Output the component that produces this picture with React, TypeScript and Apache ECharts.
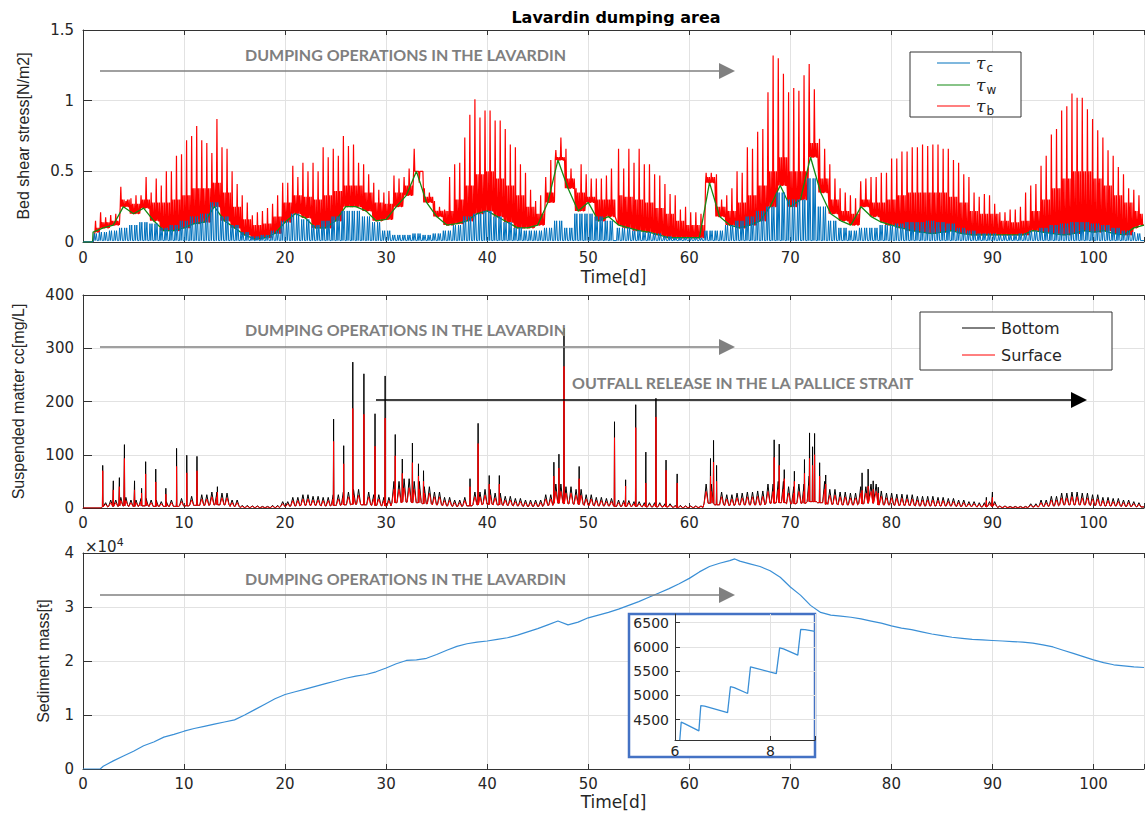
import React, { useEffect, useRef } from "react";
import * as echarts from "echarts";

// ---------- DATA ----------
// Tidal peaks of tau_b (red), first segment (days 1.24 -> 52.3) and second segment (53.0 -> 104.5)
const TIDE_A_START = 1.24;
const TIDE_A_END = 52.3;
const TIDE_B_START = 53.0;
const TIDE_B_END = 104.5;
const tbPeakA = [
  0.15, 0.21, 0.175, 0.19, 0.2, 0.39, 0.29, 0.31, 0.33, 0.33,
  0.46, 0.35, 0.45, 0.4, 0.5, 0.5, 0.61, 0.62, 0.72, 0.75,
  0.82, 0.72, 0.7, 0.63, 0.87, 0.67, 0.66, 0.5, 0.41, 0.33,
  0.28, 0.19, 0.21, 0.22, 0.24, 0.27, 0.33, 0.42, 0.42, 0.54,
  0.46, 0.56, 0.5, 0.56, 0.5, 0.67, 0.6, 0.66, 0.61, 0.75,
  0.68, 0.69, 0.56, 0.55, 0.48, 0.42, 0.37, 0.35, 0.36, 0.47,
  0.45, 0.46, 0.52, 0.66, 0.42, 0.38, 0.35, 0.29, 0.25, 0.23,
  0.46, 0.55, 0.56, 0.74, 0.9, 1.01, 0.88, 0.93, 0.93, 0.86,
  0.86, 0.8, 0.69, 0.67, 0.55, 0.49, 0.37, 0.29, 0.33, 0.46,
  0.58, 0.65, 0.74, 0.66, 0.52, 0.38, 0.55, 0.48, 0.45, 0.45,
  0.45, 0.47, 0.52,
];
const tbPeakB = [
  0.66, 0.52, 0.66, 0.56, 0.66, 0.55, 0.55, 0.48, 0.47, 0.41,
  0.34, 0.33, 0.23, 0.25, 0.21, 0.21, 0.2, 0.49, 0.49, 0.48,
  0.3, 0.33, 0.38, 0.5, 0.49, 0.67, 0.66, 0.78, 0.8, 1.06,
  1.32, 1.3, 1.19, 1.06, 1.09, 1.07, 1.18, 1.26, 1.08, 0.73,
  0.66, 0.55, 0.45, 0.38, 0.35, 0.33, 0.31, 0.43, 0.45, 0.46,
  0.46, 0.49, 0.49, 0.59, 0.59, 0.64, 0.64, 0.67, 0.67, 0.69,
  0.68, 0.69, 0.69, 0.66, 0.66, 0.58, 0.56, 0.48, 0.46, 0.35,
  0.32, 0.34, 0.33, 0.27, 0.21, 0.21, 0.23, 0.23, 0.25, 0.35,
  0.4, 0.41, 0.54, 0.61, 0.76, 0.8, 0.93, 0.96, 1.05, 1.02,
  1.02, 0.94, 0.87, 0.79, 0.74, 0.65, 0.61, 0.53, 0.48, 0.38,
  0.37, 0.33,
];
// Daily values, day 1 .. 105
const tbSecondary = [
  0.1, 0.14, 0.15, 0.3, 0.27, 0.3, 0.28, 0.28, 0.3, 0.33,
  0.38, 0.38, 0.42, 0.35, 0.25, 0.16, 0.12, 0.13, 0.18, 0.28,
  0.33, 0.32, 0.3, 0.33, 0.36, 0.4, 0.4, 0.35, 0.28, 0.27,
  0.35, 0.4, 0.5, 0.32, 0.22, 0.22, 0.3, 0.4, 0.48, 0.5,
  0.45, 0.4, 0.33, 0.25, 0.2, 0.35, 0.6, 0.45, 0.35, 0.32,
  0.3, 0.3, 0.33, 0.32, 0.3, 0.28, 0.24, 0.2, 0.15, 0.12,
  0.12, 0.46, 0.25, 0.22, 0.28, 0.33, 0.4, 0.5, 0.6, 0.5,
  0.5, 0.7, 0.45, 0.3, 0.22, 0.2, 0.3, 0.28, 0.28, 0.3,
  0.33, 0.35, 0.35, 0.35, 0.35, 0.32, 0.28, 0.22, 0.2, 0.2,
  0.15, 0.14, 0.15, 0.22, 0.3, 0.38, 0.45, 0.5, 0.5, 0.45,
  0.4, 0.33, 0.28, 0.22, 0.2,
];
const twDaily = [
  0.07, 0.1, 0.12, 0.25, 0.2, 0.24, 0.15, 0.08, 0.08, 0.1,
  0.13, 0.14, 0.25, 0.15, 0.1, 0.05, 0.02, 0.03, 0.06, 0.14,
  0.2, 0.17, 0.1, 0.1, 0.15, 0.25, 0.25, 0.22, 0.15, 0.16,
  0.25, 0.33, 0.5, 0.28, 0.18, 0.12, 0.13, 0.15, 0.2, 0.22,
  0.18, 0.14, 0.1, 0.1, 0.12, 0.28, 0.58, 0.38, 0.22, 0.28,
  0.15, 0.18, 0.12, 0.1, 0.08, 0.07, 0.05, 0.03, 0.03, 0.03,
  0.03, 0.42, 0.18, 0.12, 0.1, 0.12, 0.15, 0.25, 0.4, 0.25,
  0.3, 0.6, 0.35, 0.2, 0.15, 0.12, 0.25, 0.18, 0.14, 0.12,
  0.1, 0.08, 0.07, 0.06, 0.07, 0.08, 0.06, 0.05, 0.05, 0.05,
  0.05, 0.05, 0.05, 0.08, 0.07, 0.06, 0.05, 0.06, 0.08, 0.07,
  0.08, 0.06, 0.05, 0.1, 0.12,
];
const tcPeak = [
  0.06, 0.07, 0.08, 0.1, 0.12, 0.14, 0.13, 0.1, 0.12, 0.15,
  0.18, 0.2, 0.28, 0.18, 0.12, 0.07, 0.04, 0.05, 0.08, 0.15,
  0.2, 0.16, 0.12, 0.15, 0.18, 0.22, 0.22, 0.18, 0.14, 0.08,
  0.05, 0.05, 0.06, 0.05, 0.06, 0.08, 0.12, 0.18, 0.2, 0.22,
  0.18, 0.14, 0.1, 0.08, 0.08, 0.1, 0.15, 0.1, 0.2, 0.2,
  0.18, 0.15, 0.1, 0.1, 0.08, 0.07, 0.06, 0.04, 0.03, 0.03,
  0.03, 0.08, 0.08, 0.12, 0.15, 0.18, 0.22, 0.25, 0.35, 0.3,
  0.3, 0.45, 0.25, 0.15, 0.1, 0.08, 0.1, 0.1, 0.12, 0.12,
  0.13, 0.14, 0.14, 0.15, 0.14, 0.13, 0.1, 0.08, 0.06, 0.06,
  0.05, 0.05, 0.06, 0.08, 0.1, 0.12, 0.13, 0.14, 0.14, 0.13,
  0.12, 0.1, 0.08, 0.07, 0.06,
];
const tcTrough = 0.01;

// Suspended matter, daily background (day 1..105)
const ccBottomBg = [
  0, 10, 15, 20, 15, 18, 15, 12, 15, 18,
  22, 25, 30, 28, 15, 5, 4, 3, 5, 12,
  20, 25, 22, 20, 25, 30, 35, 30, 25, 20,
  50, 55, 50, 40, 30, 20, 15, 20, 30, 35,
  28, 22, 18, 15, 15, 25, 45, 40, 35, 25,
  20, 18, 15, 14, 12, 10, 10, 8, 5, 4,
  4, 45, 30, 25, 28, 30, 32, 45, 50, 40,
  45, 60, 50, 35, 30, 28, 40, 45, 32, 28,
  26, 25, 22, 22, 20, 18, 15, 12, 10, 12,
  4, 3, 3, 8, 15, 22, 28, 30, 28, 25,
  20, 18, 15, 12, 10,
];
const ccSurfaceBg = [
  0, 7, 10, 14, 10, 12, 10, 8, 10, 12,
  15, 17, 21, 19, 10, 3, 3, 2, 3, 8,
  14, 17, 15, 14, 17, 21, 24, 21, 17, 14,
  35, 38, 35, 28, 21, 14, 10, 14, 21, 24,
  19, 15, 12, 10, 10, 17, 31, 28, 24, 17,
  14, 12, 10, 10, 8, 7, 7, 5, 3, 3,
  3, 31, 21, 17, 19, 21, 22, 31, 35, 28,
  31, 42, 35, 24, 21, 19, 28, 31, 22, 19,
  18, 17, 15, 15, 14, 12, 10, 8, 7, 8,
  3, 2, 2, 5, 10, 15, 19, 21, 19, 17,
  14, 12, 10, 8, 7,
];
const ccTrough = [
  0, 2, 3, 4, 3, 4, 3, 3, 3, 4,
  5, 5, 6, 6, 3, 1, 1, 1, 1, 3,
  4, 5, 5, 4, 5, 6, 7, 6, 5, 4,
  10, 11, 10, 8, 6, 4, 3, 4, 6, 7,
  6, 5, 4, 3, 3, 5, 9, 8, 7, 5,
  4, 4, 3, 3, 3, 2, 2, 2, 1, 1,
  1, 9, 6, 5, 6, 6, 6, 9, 10, 8,
  9, 12, 10, 7, 6, 6, 8, 9, 6, 6,
  5, 5, 4, 4, 4, 4, 3, 3, 2, 3,
  1, 1, 1, 2, 3, 4, 6, 6, 6, 5,
  4, 4, 3, 3, 2,
];
// Isolated concentration spikes
const spikeDays = [
  1.95, 3.0, 3.6, 4.1, 5.1, 5.8, 6.2, 7.2, 8.2, 9.26, 10.27, 11.28, 13.3,
  24.8, 25.8, 26.7, 27.8, 28.9, 29.9, 30.9, 31.6, 32.6, 33.2, 33.7,
  38.3, 39.1, 40.2, 41.2, 46.6, 47.1, 47.6, 49.1,
  52.6, 53.7, 54.7, 55.7, 56.7, 57.7, 58.8, 62.1, 62.4, 62.7,
  68.4, 68.9, 69.4, 70.4, 71.4, 71.9, 72.2, 72.4, 72.9, 73.5,
  77.1, 77.7, 78.2, 78.7, 89.4, 90.0,
];
const spikeBottom = [
  80, 51, 57, 119, 51, 37, 87, 73, 37, 112, 99, 97, 40,
  167, 117, 274, 252, 177, 248, 138, 92, 122, 83, 70,
  55, 159, 61, 61, 86, 101, 338, 78,
  162, 53, 194, 105, 206, 90, 64, 93, 127, 80,
  128, 120, 72, 69, 91, 141, 115, 140, 85, 62,
  66, 73, 51, 39, 20, 30,
];
const spikeSurface = [
  70, 34, 40, 93, 34, 28, 64, 49, 26, 78, 66, 70, 30,
  125, 83, 187, 176, 116, 169, 98, 65, 85, 60, 50,
  40, 121, 45, 45, 60, 75, 266, 55,
  132, 41, 151, 47, 171, 71, 47, 60, 86, 50,
  95, 80, 55, 50, 65, 93, 80, 100, 60, 45,
  33, 41, 35, 28, 14, 20,
];

// Sediment mass [t]: day 0, 1.7, 2..64, 64.5, 65..105
const massValues = [
  0, 0,
  500, 1500, 2400, 3300, 4300, 5000, 5900, 6400, 7000, 7500, 7900, 8300, 8700, 9100,
  10000, 11000, 12000, 13000, 13800, 14300, 14800, 15300, 15800, 16300, 16800, 17200,
  17500, 18000, 18700, 19500, 20100, 20200, 20500, 21200, 22000, 22700, 23200, 23500,
  23700, 24000, 24300, 24800, 25400, 26000, 26700, 27400, 26700, 27200, 28000, 28500,
  29000, 29600, 30300, 31000, 31800, 32600, 33400, 34300, 35300, 36500, 37500, 38100,
  38600,
  38900,
  38500, 38000, 37500, 36700, 35500, 33700, 32200, 30300, 29000, 28500, 28300, 28100,
  27800, 27400, 27000, 26500, 26100, 25800, 25400, 25000, 24700, 24400, 24200, 24000,
  23900, 23800, 23700, 23600, 23500, 23300, 23000, 22600, 22000, 21400, 20800, 20200,
  19700, 19300, 19100, 18900, 18800,
];
// Inset (zoom on days 6..8.93)
const insetDays = [6.1, 6.13, 6.2, 6.5, 6.54, 6.62, 7.1, 7.16, 7.24, 7.52, 7.58, 7.66, 8.12, 8.19, 8.27, 8.57, 8.63, 8.72, 8.93];
const insetMass = [4080, 4450, 4420, 4270, 4790, 4780, 4645, 5180, 5160, 5040, 5590, 5570, 5450, 5980, 5960, 5830, 6360, 6355, 6320];
const insetTicks = [4500, 5000, 5500, 6000, 6500];

// ---------- helpers ----------
const atDay = (arr: number[], t: number) =>
  arr[Math.min(arr.length - 1, Math.max(0, Math.round(t) - 1))];
const spread = (a: number, b: number, n: number) =>
  Array.from({ length: n }, (_, i) => a + ((b - a) * i) / (n - 1));

const tideTimes = spread(TIDE_A_START, TIDE_A_END, tbPeakA.length).concat(
  spread(TIDE_B_START, TIDE_B_END, tbPeakB.length)
);
const tbPeaks = tbPeakA.concat(tbPeakB);

function buildStress() {
  const red: number[][] = [[0, 0], [1.0, 0]];
  const blue: number[][] = [[0, 0], [1.0, 0]];
  tideTimes.forEach((tp, i) => {
    const g = atDay(twDaily, tp);
    const s = Math.max(atDay(tbSecondary, tp), g);
    red.push(
      [tp - 0.06, g], [tp, tbPeaks[i]], [tp + 0.06, g],
      [tp + 0.12, g], [tp + 0.16, s], [tp + 0.2, g],
      [tp + 0.28, g], [tp + 0.32, s], [tp + 0.36, g]
    );
    const c = atDay(tcPeak, tp);
    blue.push([tp - 0.2, tcTrough], [tp - 0.12, c], [tp - 0.04, tcTrough], [tp + 0.08, c], [tp + 0.16, tcTrough]);
  });
  red.push([105, atDay(twDaily, 105)]);
  blue.push([105, tcTrough]);
  const green: number[][] = [[0, 0], [0.95, 0]].concat(twDaily.map((v, i) => [i + 1, v]));
  return { red, green, blue };
}

function buildConc() {
  const bottom: number[][] = [[0, 0], [1.8, 0]];
  const surface: number[][] = [[0, 0], [1.8, 0]];
  tideTimes.forEach((tp) => {
    if (tp < 1.9) return;
    const tr = atDay(ccTrough, tp);
    bottom.push([tp - 0.2, tr], [tp, atDay(ccBottomBg, tp)], [tp + 0.2, tr]);
    surface.push([tp - 0.2, tr], [tp, atDay(ccSurfaceBg, tp)], [tp + 0.2, tr]);
  });
  spikeDays.forEach((d, i) => {
    const tr = atDay(ccTrough, d);
    bottom.push([d - 0.03, tr], [d, spikeBottom[i]], [d + 0.03, tr]);
    surface.push([d - 0.03, tr], [d, spikeSurface[i]], [d + 0.03, tr]);
  });
  bottom.push([105, atDay(ccTrough, 105)]);
  surface.push([105, atDay(ccTrough, 105)]);
  bottom.sort((a, b) => a[0] - b[0]);
  surface.sort((a, b) => a[0] - b[0]);
  return { bottom, surface };
}

function buildMass() {
  const days: number[] = [0, 1.7];
  for (let d = 2; d <= 64; d++) days.push(d);
  days.push(64.5);
  for (let d = 65; d <= 105; d++) days.push(d);
  return days.map((d, i) => [d, massValues[i]]);
}

// ---------- styling ----------
const FONT = '"DejaVu Sans", sans-serif';
const TXT = "#262626";
const AXL = "#333333";
const GRIDC = "#e2e2e2";
const BLUE = "#0072BD";
const GREEN = "#138a13";
const RED = "#ff0000";

const GRID_LEFT = 83;
const GRID_W = 1066;

function bottomX(gi: number, extra: any = {}) {
  return {
    type: "value", gridIndex: gi, min: 0, max: 105, interval: 10, position: "bottom",
    axisLine: { show: true, onZero: false, lineStyle: { color: AXL, width: 1 } },
    axisTick: { show: true, inside: true, length: 5, lineStyle: { color: AXL } },
    axisLabel: {
      color: TXT, fontFamily: FONT, fontSize: 15, margin: 8,
      formatter: (v: number) => (v % 10 === 0 ? String(v) : ""),
    },
    splitLine: { show: true, lineStyle: { color: GRIDC, width: 1 } },
    ...extra,
  };
}
function topX(gi: number) {
  return {
    type: "value", gridIndex: gi, min: 0, max: 105, interval: 10, position: "top",
    axisLine: { show: true, onZero: false, lineStyle: { color: AXL, width: 1 } },
    axisTick: { show: true, inside: true, length: 5, lineStyle: { color: AXL } },
    axisLabel: { show: false },
    splitLine: { show: false },
  };
}
function leftY(gi: number, min: number, max: number, interval: number, name: string, nameGap: number, extra: any = {}) {
  return {
    type: "value", gridIndex: gi, min, max, interval,
    name, nameLocation: "middle", nameGap,
    nameTextStyle: { color: TXT, fontFamily: '"Liberation Sans", sans-serif', fontSize: 16 },
    axisLine: { show: true, onZero: false, lineStyle: { color: AXL, width: 1 } },
    axisTick: { show: true, inside: true, length: 9, lineStyle: { color: AXL } },
    axisLabel: { color: TXT, fontFamily: FONT, fontSize: 15, margin: 9 },
    splitLine: { show: true, lineStyle: { color: GRIDC, width: 1 } },
    ...extra,
  };
}

function arrow(x1: number, x2: number, y: number, color: string) {
  return [
    { type: "line", z: 100, shape: { x1, y1: y, x2: x2 - 12, y2: y }, style: { stroke: color, lineWidth: 1.6 } },
    { type: "polygon", z: 100, shape: { points: [[x2 - 16, y - 8], [x2, y], [x2 - 16, y + 8]] }, style: { fill: color } },
  ];
}
function annot(text: string, x: number, y: number) {
  return {
    type: "text", z: 100, x, y,
    style: { text, fill: "#7f7f7f", fontFamily: "Lato", fontWeight: "bold", fontSize: 16, align: "left", verticalAlign: "middle" },
  };
}
function tauLabel(sub: string, x: number, y: number) {
  return {
    type: "text", z: 101, x, y,
    style: {
      text: "{t|τ}{s|" + sub + "}",
      verticalAlign: "middle",
      rich: {
        t: { fontSize: 17, fontStyle: "italic", fontFamily: '"DejaVu Serif", serif', fill: TXT },
        s: { fontSize: 12, fontFamily: FONT, fill: TXT, padding: [10, 0, 0, 1] },
      },
    },
  };
}

export default function App() {
  const ref = useRef<HTMLDivElement>(null);
  useEffect(() => {
    if (!ref.current) return;
    const chart = echarts.init(ref.current, undefined, { renderer: "svg" });
    const { red, green, blue } = buildStress();
    const { bottom, surface } = buildConc();
    const mass = buildMass();
    const insetData = insetDays.map((d, i) => [d, insetMass[i]]);
    const xFmt = (v: number) => (v % 10 === 0 ? String(v) : "");

    const option: any = {
      animation: false,
      backgroundColor: "#ffffff",
      grid: [
        { left: GRID_LEFT, top: 30, width: GRID_W, height: 212 },
        { left: GRID_LEFT, top: 295, width: GRID_W, height: 213 },
        { left: GRID_LEFT, top: 553, width: GRID_W, height: 216 },
        { left: 675, top: 614, width: 140, height: 126, z: 60 },
      ],
      xAxis: [
        bottomX(0, { name: "Time[d]", nameLocation: "middle", nameGap: 26, nameTextStyle: { color: TXT, fontFamily: FONT, fontSize: 17 } }),
        topX(0),
        bottomX(1, { axisLabel: { color: TXT, fontFamily: FONT, fontSize: 15, margin: 7, formatter: xFmt } }),
        topX(1),
        bottomX(2, { name: "Time[d]", nameLocation: "middle", nameGap: 24, nameTextStyle: { color: TXT, fontFamily: FONT, fontSize: 17 }, axisLabel: { color: TXT, fontFamily: FONT, fontSize: 15, margin: 7, formatter: xFmt } }),
        topX(2),
        {
          type: "value", gridIndex: 3, min: 6, max: 8.93, interval: 2, z: 60,
          axisLine: { show: true, onZero: false, lineStyle: { color: AXL } },
          axisTick: { show: true, inside: true, length: 4, lineStyle: { color: AXL } },
          axisLabel: { color: TXT, fontFamily: FONT, fontSize: 14, margin: 4, formatter: (v: number) => (v === 6 || v === 8 ? String(v) : "") },
          splitLine: { show: true, lineStyle: { color: GRIDC } },
        },
      ],
      yAxis: [
        leftY(0, 0, 1.5, 0.5, "Bed shear stress[N/m2]", 52),
        leftY(1, 0, 400, 100, "Suspended matter cc[mg/L]", 57),
        leftY(2, 0, 40000, 10000, "Sediment mass[t]", 32, {
          axisLabel: { color: TXT, fontFamily: FONT, fontSize: 15, margin: 9, formatter: (v: number) => String(v / 10000) },
        }),
        {
          type: "value", gridIndex: 3, min: 4081, max: 6679, z: 60,
          axisLine: { show: true, onZero: false, lineStyle: { color: AXL } },
          axisTick: { show: true, inside: true, length: 5, lineStyle: { color: AXL }, customValues: insetTicks },
          axisLabel: { color: TXT, fontFamily: FONT, fontSize: 14, margin: 6, customValues: insetTicks, formatter: (v: number) => String(v) },
          splitLine: { show: false },
        },
      ],
      series: [
        { type: "line", xAxisIndex: 0, yAxisIndex: 0, data: red, showSymbol: false, symbol: "none", lineStyle: { color: RED, width: 1.2 }, silent: true },
        { type: "line", xAxisIndex: 0, yAxisIndex: 0, data: green, showSymbol: false, symbol: "none", lineStyle: { color: GREEN, width: 1.3 }, silent: true },
        { type: "line", xAxisIndex: 0, yAxisIndex: 0, data: blue, showSymbol: false, symbol: "none", lineStyle: { color: BLUE, width: 1 }, silent: true },
        { type: "line", xAxisIndex: 2, yAxisIndex: 1, data: bottom, showSymbol: false, symbol: "none", lineStyle: { color: "#000000", width: 1 }, silent: true },
        { type: "line", xAxisIndex: 2, yAxisIndex: 1, data: surface, showSymbol: false, symbol: "none", lineStyle: { color: RED, width: 1 }, silent: true },
        { type: "line", xAxisIndex: 4, yAxisIndex: 2, data: mass, showSymbol: false, symbol: "none", lineStyle: { color: "#3a8fd6", width: 1.2 }, silent: true },
        {
          type: "line", xAxisIndex: 6, yAxisIndex: 3, data: insetData, z: 58, showSymbol: false, symbol: "none",
          lineStyle: { opacity: 0 }, silent: true,
          markLine: {
            silent: true, symbol: "none", label: { show: false }, z: 58,
            lineStyle: { color: GRIDC, type: "solid", width: 1 },
            data: insetTicks.map((v) => ({ yAxis: v })),
          },
        },
        { type: "line", xAxisIndex: 6, yAxisIndex: 3, data: insetData, z: 61, showSymbol: false, symbol: "none", lineStyle: { color: "#3a8fd6", width: 1.3 }, silent: true },
      ],
      graphic: {
        elements: [
          {
            type: "text", z: 100, x: 616, y: 17,
            style: { text: "Lavardin dumping area", fontFamily: FONT, fontWeight: "bold", fontSize: 16, fill: "#000", align: "center", verticalAlign: "middle" },
          },
          annot("DUMPING OPERATIONS IN THE LAVARDIN", 245, 54),
          ...arrow(100, 735, 71, "#808080"),
          annot("DUMPING OPERATIONS IN THE LAVARDIN", 245, 329),
          ...arrow(100, 735, 347, "#808080"),
          annot("OUTFALL RELEASE IN THE LA PALLICE STRAIT", 572, 382),
          ...arrow(376, 1087, 400, "#000000"),
          annot("DUMPING OPERATIONS IN THE LAVARDIN", 245, 578),
          ...arrow(100, 735, 595, "#808080"),
          // top legend
          { type: "rect", z: 100, shape: { x: 910, y: 52, width: 111, height: 65 }, style: { fill: "#fff", stroke: "#333", lineWidth: 1 } },
          { type: "line", z: 101, shape: { x1: 937, y1: 63, x2: 970, y2: 63 }, style: { stroke: BLUE, lineWidth: 1.2 } },
          { type: "line", z: 101, shape: { x1: 937, y1: 85, x2: 970, y2: 85 }, style: { stroke: GREEN, lineWidth: 1.2 } },
          { type: "line", z: 101, shape: { x1: 937, y1: 106, x2: 970, y2: 106 }, style: { stroke: RED, lineWidth: 1.2 } },
          tauLabel("c", 976, 63),
          tauLabel("w", 976, 85),
          tauLabel("b", 976, 106),
          // middle legend
          { type: "rect", z: 100, shape: { x: 920, y: 312, width: 192, height: 58 }, style: { fill: "#fff", stroke: "#333", lineWidth: 1 } },
          { type: "line", z: 101, shape: { x1: 962, y1: 328, x2: 995, y2: 328 }, style: { stroke: "#000", lineWidth: 1 } },
          { type: "line", z: 101, shape: { x1: 962, y1: 355, x2: 995, y2: 355 }, style: { stroke: RED, lineWidth: 1 } },
          { type: "text", z: 101, x: 1001, y: 328, style: { text: "Bottom", fontFamily: FONT, fontSize: 16, fill: TXT, verticalAlign: "middle" } },
          { type: "text", z: 101, x: 1001, y: 355, style: { text: "Surface", fontFamily: FONT, fontSize: 16, fill: TXT, verticalAlign: "middle" } },
          // exponent
          {
            type: "text", z: 100, x: 85, y: 547,
            style: {
              text: "×10{s|4}", fontFamily: FONT, fontSize: 15, fill: TXT, verticalAlign: "middle",
              rich: { s: { fontSize: 11, fontFamily: FONT, fill: TXT, padding: [0, 0, 9, 0] } },
            },
          },
          // inset frame
          { type: "rect", z: 50, shape: { x: 629, y: 614, width: 186, height: 143 }, style: { fill: "#fff", stroke: "#4472C4", lineWidth: 2.5 } },
        ],
      },
    };
    chart.setOption(option);
    return () => chart.dispose();
  }, []);
  return <div ref={ref} style={{ position: "absolute", left: 0, top: 0, width: 1147, height: 814 }} />;
}
